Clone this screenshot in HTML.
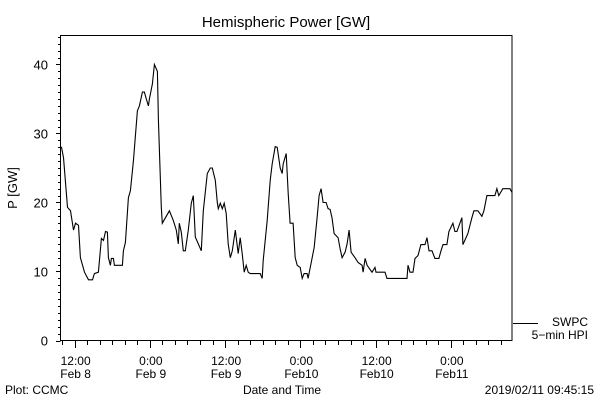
<!DOCTYPE html>
<html><head><meta charset="utf-8"><style>
html,body{margin:0;padding:0;background:#fff}
svg text{font-family:"Liberation Sans",sans-serif;fill:#000}
</style></head><body>
<svg id="chart" width="600" height="400" xmlns="http://www.w3.org/2000/svg">
<rect width="600" height="400" fill="#fff"/>
<text x="286" y="27" font-size="15" text-anchor="middle">Hemispheric Power [GW]</text>
<rect x="60.5" y="35.5" width="451.5" height="305" fill="none" stroke="#000" stroke-width="1"/>
<g id="yaxis"></g>
<g id="xaxis"></g>
<text transform="translate(17,188) rotate(-90)" font-size="13" text-anchor="middle">P [GW]</text>
<text x="282" y="394" font-size="12" text-anchor="middle">Date and Time</text>
<text x="5" y="394" font-size="12">Plot: CCMC</text>
<text x="594" y="394" font-size="12" text-anchor="end">2019/02/11 09:45:15</text>
<g>
<line x1="513" y1="323.5" x2="538" y2="323.5" stroke="#000"/>
<text x="588" y="326" font-size="12" text-anchor="end">SWPC</text>
<text x="588" y="339" font-size="12" text-anchor="end">5−min HPI</text>
</g>
<path id="series" fill="none" stroke="#000" stroke-width="1.1"/>
</svg>
<script>
// hours since Feb 8 09:45 UT
const hours=[0,0.16,0.48,1.11,1.59,2.07,2.39,2.87,3.18,3.82,4.46,5.10,5.41,6.05,6.53,6.85,7.17,7.48,7.64,7.96,8.12,8.44,8.60,9.87,10.03,10.35,10.83,11.15,11.62,12.26,12.58,13.06,13.38,13.69,14.01,14.17,14.65,14.97,15.45,15.61,16.08,16.24,17.36,17.99,18.47,18.79,18.95,19.27,19.59,19.90,20.38,20.86,21.18,21.50,21.97,22.45,22.77,23.41,23.89,24.20,24.68,25.00,25.16,25.48,25.80,26.11,26.43,26.75,27.07,27.39,27.87,28.34,28.66,28.98,29.30,29.62,29.94,30.25,31.85,32.17,32.32,32.96,33.44,33.76,34.24,34.55,35.03,35.35,35.51,35.99,36.31,36.62,37.10,37.42,37.74,38.22,38.54,38.85,39.33,39.49,39.97,40.45,40.92,41.24,41.56,41.88,42.36,42.68,42.99,43.31,43.63,44.27,44.59,44.90,45.38,45.70,46.02,46.34,46.97,47.45,48.09,48.25,48.57,48.89,49.68,50.16,50.32,51.75,52.07,55.25,55.41,55.73,56.21,56.53,57.01,57.48,58.12,58.44,58.76,59.24,59.71,60.35,60.67,60.99,61.62,61.94,62.58,62.90,63.22,64.01,64.17,64.97,65.61,65.92,66.56,67.20,67.52,67.99,69.27,69.59,69.90,70.54,71.66,71.97];
const power=[28,28,26.5,19.3,18.8,16,17,16.7,12,9.9,8.8,8.8,9.7,9.9,14.8,14.5,15.8,15.7,12,10.9,11.9,11.9,10.9,10.9,13,14.2,20.7,21.7,26,33.3,34,36,36,35,34,35,37.2,40,39,32,19.3,17,18.8,17.4,16,14,17,15.7,13,13,16,19.9,21,15,14,13,18.8,24.2,25,25,23.2,20,19.1,19.9,19.1,19.9,18.4,14,12,13,16,12.6,14.9,12.6,9.9,10.9,9.9,9.7,9.7,9,11.6,17.4,23.2,25.6,28.1,28,25,24.2,25.6,27.1,21.3,17,17,12,10.9,10.6,9,9.7,9.7,9,11.2,13.5,17.8,21,22,20,20,19.1,19,17.7,15.5,14.9,13.3,12,12.8,14,16,12.8,12,11.3,10.9,9.9,11.9,10.9,9.9,10.6,9.9,9.9,9,9,10.9,9.9,9.9,11.9,12.3,13.9,13.9,14.9,13,13,11.9,11.9,13,13.9,13.9,15.8,17,15.8,15.8,17.8,13.9,15.5,17.8,18.8,18.8,18,18.8,21,21,22,21,22,22,21.5];
const yTicks=[0,10,20,30,40];
const xTickHours=[2.25,26.25,50.25]; // 12:00 Feb8, 12:00 Feb9, 12:00 Feb10 (plus 0:00 ticks below)
const xTickLabels=[["12:00","Feb 8"],["0:00","Feb 9"],["12:00","Feb 9"],["0:00","Feb10"],["12:00","Feb10"],["0:00","Feb11"]];
const xLabelHours=[2.25,14.25,26.25,38.25,50.25,62.25];
const X0=60.5,X1=512,Y0=340.5,YT=35.5,HMAX=72,VMAX=44.2;
const xs=h=>X0+h/HMAX*(X1-X0);
const ys=v=>Y0-v/VMAX*(Y0-YT);
const NS="http://www.w3.org/2000/svg";
function mk(t,a,p){const e=document.createElementNS(NS,t);for(const k in a)e.setAttribute(k,a[k]);p.appendChild(e);return e;}
const ya=document.getElementById('yaxis'),xa=document.getElementById('xaxis');
for(let v=0;v<=44;v++){const y=Math.round(ys(v))+0.5;const major=v%10===0;
 const l=mk('line',{x1:major?56:58,x2:60.5,y1:y,y2:y,stroke:'#000'},ya);
 
 }
yTicks.forEach(v=>{const t=mk('text',{x:48,y:ys(v)+5,'font-size':13,'text-anchor':'end'},ya);t.textContent=v;
 
 });
for(let h=0.25;h<=HMAX;h+=2){const x=Math.round(xs(h))+0.5;const major=Math.abs(((h-2.25)%12+12)%12)<0.01;
 const l=mk('line',{x1:x,x2:x,y1:340.5,y2:major?348:345,stroke:'#000'},xa);
 
 }
xLabelHours.forEach((h,i)=>{const x=xs(h);
 const t=mk('text',{x:x+1,y:365,'font-size':12,'text-anchor':'middle'},xa);t.textContent=xTickLabels[i][0];
 
 
 const t2=mk('text',{x:x+1,y:378,'font-size':12,'text-anchor':'middle'},xa);t2.textContent=xTickLabels[i][1];
 
 });
document.getElementById('series').setAttribute('d',hours.map((h,i)=>(i?'L':'M')+xs(h).toFixed(1)+' '+ys(power[i]).toFixed(1)).join(' '));
</script>
</body></html>
